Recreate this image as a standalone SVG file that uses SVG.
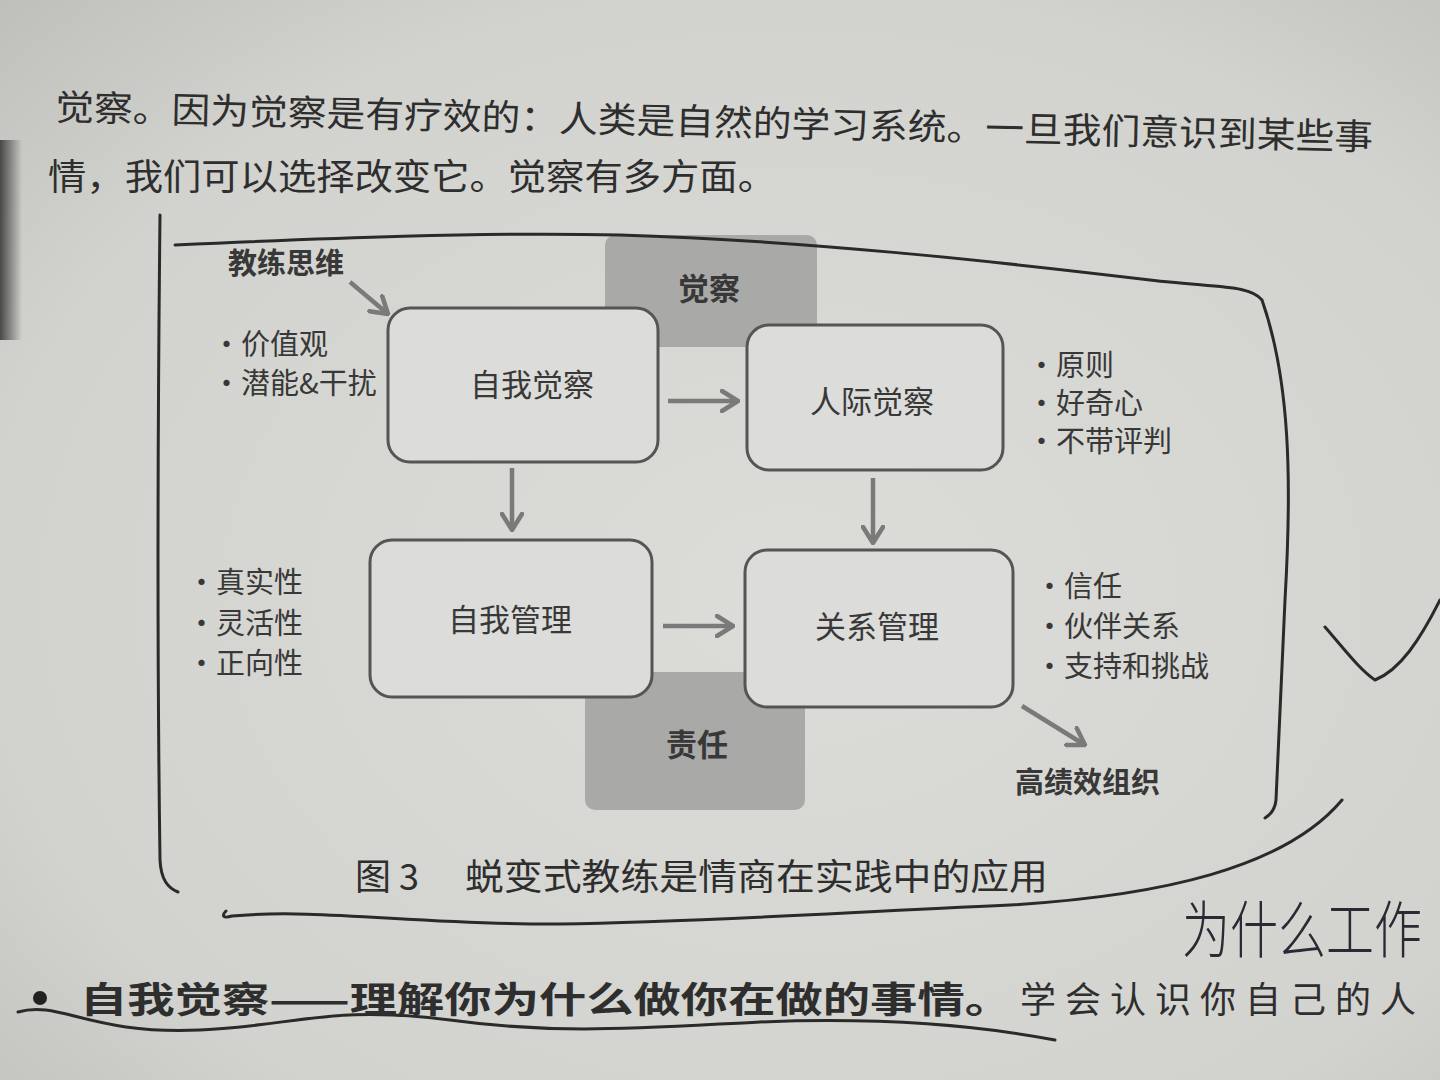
<svg xmlns="http://www.w3.org/2000/svg" width="1440" height="1080" viewBox="0 0 1440 1080">
<defs>
<radialGradient id="paper" cx="0.55" cy="0.55" r="0.8">
<stop offset="0" stop-color="#dcdcd8"/>
<stop offset="0.7" stop-color="#d2d2ce"/>
<stop offset="1" stop-color="#bdbdb9"/>
</radialGradient>
<linearGradient id="leftedge" x1="0" y1="0" x2="1" y2="0">
<stop offset="0" stop-color="#3a3a3a" stop-opacity="0.9"/>
<stop offset="1" stop-color="#3a3a3a" stop-opacity="0"/>
</linearGradient>
<marker id="chev" viewBox="0 0 20 24" refX="18" refY="12" markerWidth="20" markerHeight="24" markerUnits="userSpaceOnUse" orient="auto">
<path d="M2,2 L18,12 L2,22" fill="none" stroke="#7a7a7a" stroke-width="4.5" stroke-linecap="round" stroke-linejoin="round"/>
</marker>
<style>
.body{font-family:"Noto Sans CJK SC","Noto Sans",sans-serif;fill:#2e2e2e;font-size:36px}
.node rect{fill:#dcdcda;stroke:#555;stroke-width:3}
.lbl{font-family:"Noto Sans CJK SC","Noto Sans",sans-serif;fill:#383838;font-size:31px;text-anchor:middle}
.bul{font-family:"Noto Sans CJK SC","Noto Sans",sans-serif;fill:#383838;font-size:29px}
.bold{font-weight:bold}
.shade{fill:#a9a9a7}
.conn path{fill:none;stroke:#7a7a7a;stroke-width:4.5;marker-end:url(#chev)}
.pen{fill:none;stroke:#2a2a2a;stroke-width:3;stroke-linecap:round;stroke-linejoin:round}
.hand{font-family:"Noto Sans CJK SC",sans-serif;fill:#2a2a35;font-size:48px;font-weight:300}
</style>
</defs>
<rect width="1440" height="1080" fill="url(#paper)"/>
<rect x="0" y="140" width="22" height="200" fill="url(#leftedge)"/>

<!-- top page text -->
<g transform="rotate(1.3 55 120)">
<text class="body" x="55" y="120" textLength="1318" lengthAdjust="spacingAndGlyphs">觉察。因为觉察是有疗效的：人类是自然的学习系统。一旦我们意识到某些事</text>
</g>
<text class="body" x="48" y="190" textLength="728" lengthAdjust="spacingAndGlyphs">情，我们可以选择改变它。觉察有多方面。</text>

<!-- shaded boxes -->
<g id="awareness-band">
<rect class="shade" x="605" y="235" width="212" height="112" rx="10"/>
<text class="lbl bold" x="709" y="300" font-size="28">觉察</text>
</g>
<g id="responsibility-band">
<rect class="shade" x="585" y="672" width="220" height="138" rx="10"/>
<text class="lbl bold" x="697" y="756" font-size="28">责任</text>
</g>

<!-- hand-drawn frame -->
<path class="pen" d="M160,215 C158,400 157,650 160,860 C161,880 168,888 178,892"/>
<path class="pen" d="M175,245 C330,238 480,232 620,235 C800,240 1000,262 1150,280 C1220,288 1250,285 1262,300 C1290,380 1292,480 1285,600 C1280,700 1278,760 1276,800 C1275,810 1270,815 1265,818"/>
<path class="pen" d="M226,911 C222,915 222,919 232,916 C320,908 420,925 560,924 C700,922 830,913 1010,905 C1160,896 1285,868 1342,800"/>
<path class="pen" d="M1325,627 C1345,650 1360,670 1375,680 C1400,670 1420,640 1440,600"/>
<path class="pen" d="M18,1012 C60,1000 90,1035 200,1030 C300,1025 330,1005 450,1020 C560,1035 640,1028 760,1022 C860,1018 960,1022 1055,1040"/>
<text class="hand" transform="translate(1182,953) scale(1,1.3)" x="0" y="0">为什么工作</text>

<!-- nodes -->
<g id="self-awareness" class="node">
<rect x="388" y="308" width="270" height="154" rx="22"/>
<text class="lbl" x="532" y="396">自我觉察</text>
</g>
<g id="social-awareness" class="node">
<rect x="747" y="325" width="256" height="145" rx="22"/>
<text class="lbl" x="872" y="413">人际觉察</text>
</g>
<g id="self-management" class="node">
<rect x="370" y="540" width="282" height="157" rx="22"/>
<text class="lbl" x="510" y="631">自我管理</text>
</g>
<g id="relationship-management" class="node">
<rect x="745" y="550" width="268" height="157" rx="22"/>
<text class="lbl" x="877" y="638">关系管理</text>
</g>

<!-- side labels -->
<g id="coach-thinking"><text class="bul bold" x="228" y="274" font-size="27" fill="#444">教练思维</text></g>
<g id="sa-notes">
<text class="bul" x="212" y="355">·价值观</text>
<text class="bul" x="212" y="394">·潜能&amp;干扰</text>
</g>
<g id="soa-notes">
<text class="bul" x="1027" y="376">·原则</text>
<text class="bul" x="1027" y="414">·好奇心</text>
<text class="bul" x="1027" y="452">·不带评判</text>
</g>
<g id="sm-notes">
<text class="bul" x="187" y="593">·真实性</text>
<text class="bul" x="187" y="634">·灵活性</text>
<text class="bul" x="187" y="674">·正向性</text>
</g>
<g id="rm-notes">
<text class="bul" x="1035" y="597">·信任</text>
<text class="bul" x="1035" y="637">·伙伴关系</text>
<text class="bul" x="1035" y="677">·支持和挑战</text>
</g>
<g id="high-performance"><text class="bul bold" x="1015" y="793" font-size="29">高绩效组织</text></g>

<!-- connectors -->
<g id="connectors" class="conn">
<path d="M350,282 L388,314"/>
<path d="M668,401 L738,401"/>
<path d="M512,468 L512,530"/>
<path d="M873,478 L873,543"/>
<path d="M663,626 L733,626"/>
<path d="M1022,706 L1085,745"/>
</g>

<!-- caption -->
<text class="body" x="355" y="890" font-size="33" fill="#3a3a3a">图 3</text>
<text class="body" x="465" y="890" font-size="33" fill="#3a3a3a" textLength="583" lengthAdjust="spacingAndGlyphs">蜕变式教练是情商在实践中的应用</text>

<!-- bottom text -->
<circle cx="40" cy="998" r="7" fill="#222"/>
<text class="body bold" x="80" y="1013" font-size="40" textLength="932" lengthAdjust="spacingAndGlyphs">自我觉察——理解你为什么做你在做的事情。</text>
<text class="body" x="1020" y="1013" font-size="38" letter-spacing="9">学会认识你自己的人</text>
</svg>
